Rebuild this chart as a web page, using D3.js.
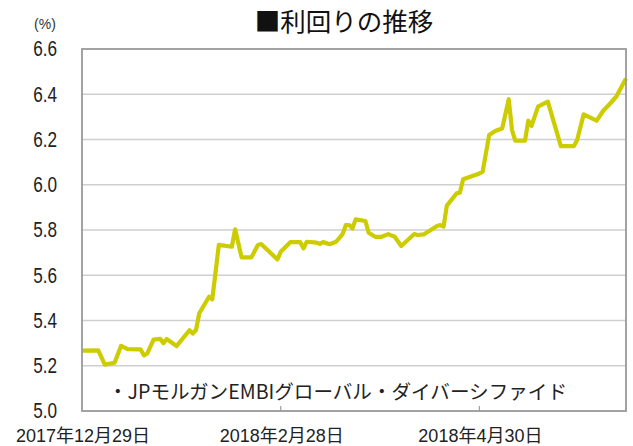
<!DOCTYPE html>
<html><head><meta charset="utf-8">
<script src="https://cdn.jsdelivr.net/npm/d3@7"></script>
<style>body{margin:0;background:#fff}svg{display:block}</style>
</head><body>
<script>
const title = "■利回りの推移";
const unitLabel = "(%)";
const seriesName = "・JPモルガンEMBIグローバル・ダイバーシファイド";
const dates = ["2017-12-29","2018-01-03","2018-01-05","2018-01-08","2018-01-10","2018-01-12","2018-01-16","2018-01-17","2018-01-18","2018-01-20","2018-01-22","2018-01-23","2018-01-24","2018-01-27","2018-01-31","2018-02-01","2018-02-02","2018-02-03","2018-02-06","2018-02-07","2018-02-09","2018-02-13","2018-02-14","2018-02-16","2018-02-19","2018-02-21","2018-02-22","2018-02-27","2018-02-28","2018-03-03","2018-03-06","2018-03-07","2018-03-08","2018-03-11","2018-03-12","2018-03-13","2018-03-15","2018-03-17","2018-03-19","2018-03-20","2018-03-21","2018-03-22","2018-03-23","2018-03-26","2018-03-27","2018-03-29","2018-03-31","2018-04-02","2018-04-04","2018-04-06","2018-04-10","2018-04-11","2018-04-13","2018-04-17","2018-04-18","2018-04-19","2018-04-20","2018-04-23","2018-04-24","2018-04-25","2018-04-30","2018-05-01","2018-05-03","2018-05-05","2018-05-07","2018-05-09","2018-05-10","2018-05-11","2018-05-14","2018-05-15","2018-05-16","2018-05-18","2018-05-21","2018-05-25","2018-05-29","2018-05-30","2018-06-01","2018-06-05","2018-06-07","2018-06-09","2018-06-11","2018-06-14"];
const yields = [5.267,5.268,5.205,5.213,5.288,5.273,5.272,5.246,5.254,5.316,5.319,5.300,5.318,5.287,5.357,5.342,5.358,5.432,5.505,5.494,5.734,5.726,5.803,5.679,5.679,5.734,5.738,5.670,5.704,5.747,5.746,5.719,5.748,5.744,5.739,5.747,5.737,5.748,5.782,5.822,5.822,5.807,5.847,5.840,5.788,5.770,5.770,5.782,5.770,5.729,5.782,5.778,5.781,5.818,5.822,5.815,5.908,5.962,5.965,6.024,6.050,6.058,6.220,6.239,6.249,6.378,6.242,6.195,6.195,6.283,6.260,6.345,6.367,6.171,6.171,6.198,6.311,6.283,6.327,6.357,6.389,6.470];
const yTicks = [5.0,5.2,5.4,5.6,5.8,6.0,6.2,6.4,6.6];
const xTickDates = ["2017-12-29","2018-02-28","2018-04-30"];
const xTickLabels = ["2017年12月29日","2018年2月28日","2018年4月30日"];

const W = 633, H = 446;
const L = 82, R = 626, T = 49, B = 411;
const parse = d3.timeParse("%Y-%m-%d");
const data = dates.map((d,i)=>({date:parse(d), v:yields[i]}));

const svg = d3.select("body").append("svg").attr("width",W).attr("height",H);
const x = d3.scaleTime().domain([parse("2017-12-29"), parse("2018-06-14")]).range([L,R]);
const y = d3.scaleLinear().domain([5.0,6.6]).range([B,T]);

const jp = "'Noto Sans CJK JP','Noto Sans',sans-serif";

// gridlines
svg.append("g").selectAll("line").data(yTicks.slice(1,-1)).join("line")
  .attr("x1",L).attr("x2",R).attr("y1",d=>y(d)).attr("y2",d=>y(d))
  .attr("stroke","#cfcfcf").attr("stroke-width",1.3);

// x tick marks (inside)
svg.append("g").selectAll("line").data(xTickDates.slice(1)).join("line")
  .attr("x1",d=>x(parse(d))).attr("x2",d=>x(parse(d)))
  .attr("y1",B).attr("y2",B-5).attr("stroke","#a0a0a0").attr("stroke-width",1.2);

// line
const line = d3.line().x(d=>x(d.date)).y(d=>y(d.v)).curve(d3.curveLinear);
svg.append("path").datum(data).attr("d",line)
  .attr("fill","none").attr("stroke","#cccc00").attr("stroke-width",4.2)
  .attr("stroke-linejoin","round").attr("stroke-linecap","butt");

// frame
svg.append("rect").attr("x",L).attr("y",T).attr("width",R-L).attr("height",B-T)
  .attr("fill","none").attr("stroke","#999").attr("stroke-width",1.8);

// y labels
svg.append("g").selectAll("text").data(yTicks).join("text")
  .attr("transform",d=>`translate(57,${y(d)}) scale(0.78,1)`)
  .attr("text-anchor","end").attr("dy","0.34em")
  .attr("font-family","'Liberation Sans',Arial,sans-serif").attr("font-size",22)
  .attr("fill","#222").text(d=>d.toFixed(1));

// x labels
svg.append("g").selectAll("text").data(xTickDates).join("text")
  .attr("x",d=>x(parse(d))+1).attr("y",442)
  .attr("text-anchor","middle").attr("font-family","'Liberation Sans','Noto Sans CJK JP',sans-serif").attr("font-size",18)
  .attr("fill","#222").text((d,i)=>xTickLabels[i]);

// title
svg.append("text").attr("x",344).attr("y",31).attr("text-anchor","middle")
  .attr("font-family",jp).attr("font-size",25.5).attr("fill","#111").text(title);

// unit
svg.append("text").attr("x",45).attr("y",29).attr("text-anchor","middle")
  .attr("font-family","'Liberation Sans',Arial,sans-serif").attr("font-size",14)
  .attr("fill","#333").text(unitLabel);

// series label
svg.append("text").attr("x",108).attr("y",399)
  .attr("font-family",jp).attr("font-size",19.5).attr("fill","#222")
  .attr("textLength",459).attr("lengthAdjust","spacingAndGlyphs")
  .text(seriesName);
</script>
</body></html>
